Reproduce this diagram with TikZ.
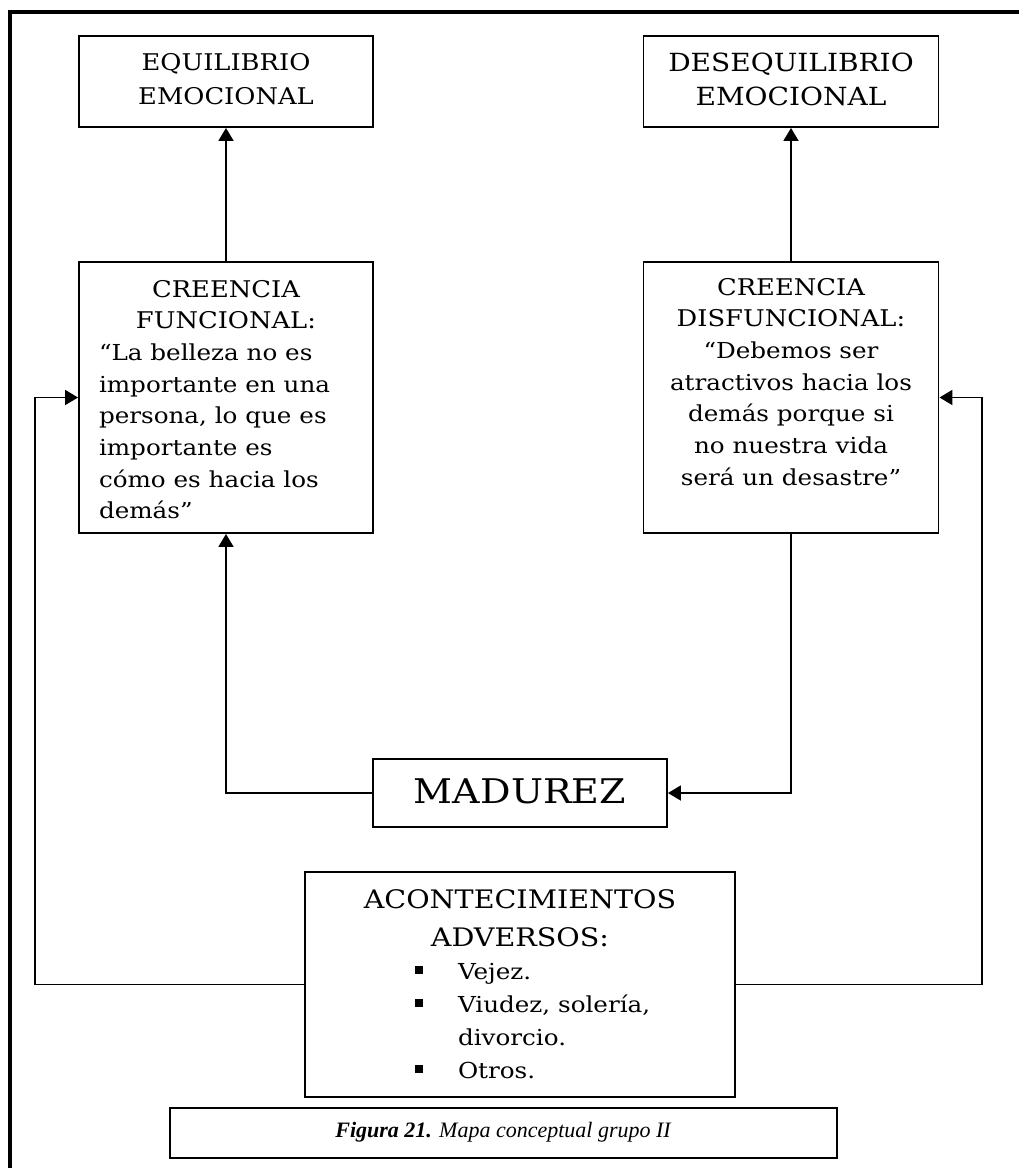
\documentclass[tikz,border=0pt]{standalone}
\usepackage{fontspec}
\setmainfont{DejaVu Serif}[FakeStretch=1.12]
\newfontfamily\capfont{Liberation Serif}
\usetikzlibrary{arrows.meta}

% strut that fixes the first baseline of a box's text
\newcommand{\topstrut}[1]{\rule{0pt}{#1}}
% square list bullet hung to the left of the item text
\newcommand{\sqbullet}{\leavevmode\llap{\rule[5pt]{8pt}{8pt}\hspace{35pt}}}

\tikzset{
  box/.style={draw, line width=1.9pt, inner sep=0pt},
  link/.style={line width=1.9pt, -{Triangle[length=13pt,width=15pt]}},
  frame/.style={line width=3.3pt},
}

\begin{document}
\begin{tikzpicture}[x=1pt, y=-1pt]
\useasboundingbox (0,0) rectangle (1018,1168);

% page frame (top and left rules)
\draw[frame] (10,1175) -- (10,12) -- (1025,12);

% upper outcome boxes
\node[box] (eq) at (226,81.5) {\parbox[c][91pt][t]{294pt}{\centering\fontsize{23}{34}\selectfont
  \topstrut{34pt}EQUILIBRIO\\EMOCIONAL}};
\node[box] (deq) at (791,81.5) {\parbox[c][91pt][t]{295pt}{\centering\fontsize{25}{34}\selectfont
  \topstrut{35pt}DESEQUILIBRIO\\EMOCIONAL}};

% beliefs
\node[box] (cf) at (226,397.5) {\parbox[c][271pt][t]{294pt}{\fontsize{23}{31.7}\selectfont
  \centering\topstrut{35pt}CREENCIA\\FUNCIONAL:\par
  \fontsize{22}{31.7}\selectfont
  \raggedright\leftskip=20pt\rightskip=0pt plus 1fil
  “La belleza no es\\importante en una\\persona, lo que es\\importante es\\cómo es hacia los\\demás”\par}};
\node[box] (cd) at (791,397.5) {\parbox[c][271pt][t]{295pt}{\fontsize{23}{31.7}\selectfont
  \centering\topstrut{33pt}CREENCIA\\DISFUNCIONAL:\par
  \fontsize{22}{31.7}\selectfont
  “Debemos ser\\atractivos hacia los\\demás porque si\\no nuestra vida\\será un desastre”\par}};

% maturity
\node[box] (mad) at (520,793) {\parbox[c][68pt][t]{294pt}{\centering\fontsize{34}{40}\selectfont
  \topstrut{44pt}MADUREZ}};

% adverse events
\node[box] (ac) at (520,984.5) {\parbox[c][225pt][t]{430pt}{\fontsize{25.5}{33}\selectfont
  \centering\topstrut{36pt}ACONTECIMIENTOS\\[5pt]ADVERSOS:\par
  \fontsize{22}{33}\selectfont
  \raggedright\leftskip=153pt\rightskip=0pt plus 1fil
  \sqbullet Vejez.\\\sqbullet Viudez, solería,\\divorcio.\\\sqbullet Otros.\par}};

% caption
\node[box] (cap) at (503.5,1133) {\parbox[c][50pt][t]{667pt}{\centering\capfont\fontsize{22}{24}\selectfont
  \topstrut{29pt}\textbf{\textit{Figura 21.}} \textit{Mapa conceptual grupo II}}};

% feedback points beside the diagram
\coordinate (lp) at (35,984.5);
\coordinate (rp) at (982,984.5);

% connectors
\draw[link] (cf.north) -- (eq.south);
\draw[link] (cd.north) -- (deq.south);
\draw[link] (mad.west) -| (cf.south);
\draw[link] (cd.south) |- (mad.east);
\draw[link] (ac.west) -- (lp) |- (cf.west);
\draw[link] (ac.east) -- (rp) |- (cd.east);
\end{tikzpicture}
\end{document}
